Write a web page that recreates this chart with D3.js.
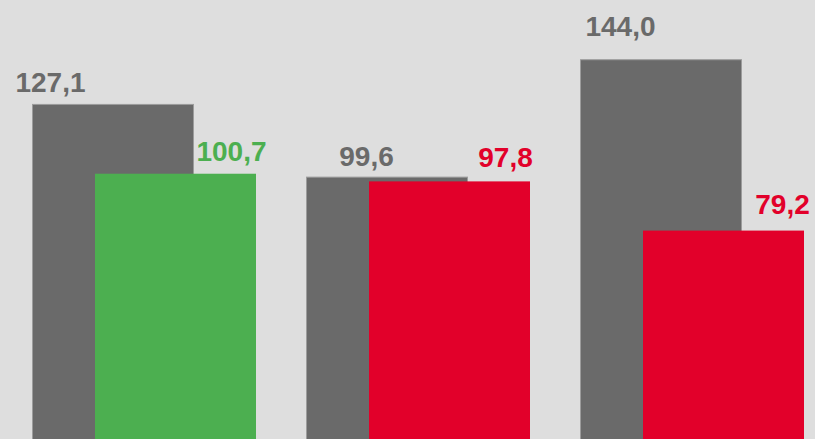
<!DOCTYPE html>
<html>
<head>
<meta charset="utf-8">
<script src="https://cdn.jsdelivr.net/npm/d3@7"></script>
<style>
  html, body { margin: 0; padding: 0; background: #dedede; overflow: hidden; }
  svg { display: block; }
</style>
</head>
<body>
<svg id="chart"></svg>
<script>
// chart data
const categories = ["A", "B", "C"];
const prevValues = [127.1, 99.6, 144.0];
const currValues = [100.7, 97.8, 79.2];
const currColors = ["#4caf50", "#e2002a", "#e2002a"];

// label nudges (hand placed in the original)
const prevLabelDx = [-62, -20, -40];
const prevLabelDy = [-12, -11, -23];
const currLabelDx = [56, 56, 59];
const currLabelDy = [-13, -14, -17];

const width = 815;
const height = 439;

const svg = d3.select("#chart")
  .attr("width", width)
  .attr("height", height);

svg.append("rect")
  .attr("width", width)
  .attr("height", height)
  .attr("fill", "#dedede");

const xScale = d3.scaleBand()
  .domain(categories)
  .range([32, 32 + 274 * 3])
  .padding(0);

const yScale = d3.scaleLinear()
  .domain([0, 166.4])
  .range([440, 0]);

const barW = 161;
const offset = 63;

const fmt = v => d3.format(".1f")(v).replace(".", ",");

const data = categories.map((c, i) => ({
  cat: c,
  prev: prevValues[i],
  curr: currValues[i],
  color: currColors[i],
  i: i
}));

// back (grey) bars
svg.selectAll(".prev")
  .data(data)
  .enter()
  .append("rect")
  .attr("class", "prev")
  .attr("x", d => xScale(d.cat) + 0.5)
  .attr("y", d => yScale(d.prev) + 0.5)
  .attr("width", barW)
  .attr("height", d => yScale(0) - yScale(d.prev))
  .attr("fill", "#6a6a6a")
  .attr("stroke", "#9c9c9c")
  .attr("stroke-width", 1);

// front bars
svg.selectAll(".curr")
  .data(data)
  .enter()
  .append("rect")
  .attr("class", "curr")
  .attr("x", d => xScale(d.cat) + offset)
  .attr("y", d => yScale(d.curr))
  .attr("width", barW)
  .attr("height", d => yScale(0) - yScale(d.curr))
  .attr("fill", d => d.color);

svg.selectAll(".prev-label")
  .data(data)
  .enter()
  .append("text")
  .attr("class", "prev-label")
  .attr("x", d => xScale(d.cat) + barW / 2 + prevLabelDx[d.i])
  .attr("y", d => yScale(d.prev) + prevLabelDy[d.i])
  .attr("text-anchor", "middle")
  .attr("font-family", "Liberation Sans, Arial, sans-serif")
  .attr("font-weight", "bold")
  .attr("font-size", 28)
  .attr("fill", "#6a6a6a")
  .text(d => fmt(d.prev));

svg.selectAll(".curr-label")
  .data(data)
  .enter()
  .append("text")
  .attr("class", "curr-label")
  .attr("x", d => xScale(d.cat) + offset + barW / 2 + currLabelDx[d.i])
  .attr("y", d => yScale(d.curr) + currLabelDy[d.i])
  .attr("text-anchor", "middle")
  .attr("font-family", "Liberation Sans, Arial, sans-serif")
  .attr("font-weight", "bold")
  .attr("font-size", 28)
  .attr("fill", d => d.color)
  .text(d => fmt(d.curr));
</script>
</body>
</html>
